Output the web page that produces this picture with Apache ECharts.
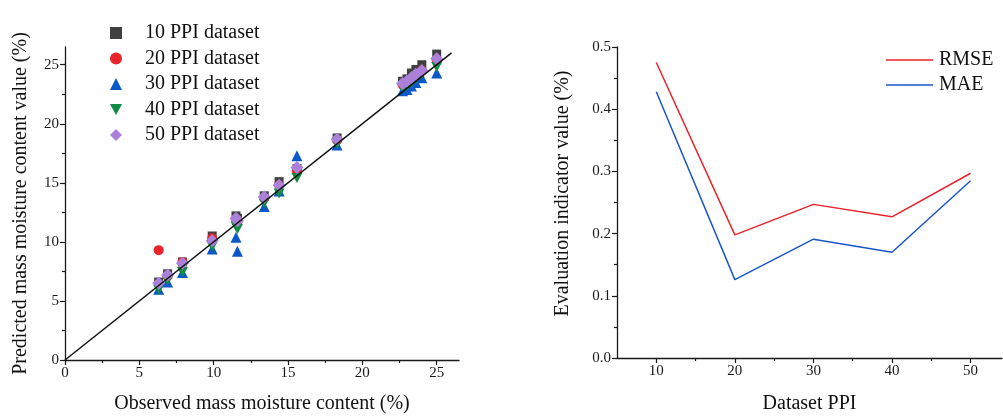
<!DOCTYPE html>
<html>
<head>
<meta charset="utf-8">
<script src="https://cdn.jsdelivr.net/npm/echarts@6/dist/echarts.min.js"></script>
<style>html,body{margin:0;padding:0;background:#fff}#c{width:1003px;height:419px}</style>
</head>
<body>
<div id="c"></div>
<script>
// ---- Left panel: observed vs predicted ----
var observed = [6.3, 6.9, 7.9, 9.9, 11.5, 11.6, 13.4, 14.4, 15.6, 18.3, 22.7, 23.0, 23.3, 23.6, 24.0, 25.0];
var pred10 = [6.6, 7.3, 8.3, 10.5, 12.2, 12.0, 13.9, 15.1, 16.2, 18.8, 23.6, 23.8, 24.3, 24.6, 25.0, 25.9];
var pred20 = [9.3, 7.1, 8.3, 10.3, 11.9, 11.7, 13.7, 14.8, 16.0, 18.6, 23.3, 23.5, 23.8, 24.0, 24.5, 25.4];
var pred30 = [6.0, 6.6, 7.4, 9.4, 10.4, 9.2, 13.0, 14.3, 17.3, 18.2, 22.8, 22.9, 23.2, 23.5, 23.9, 24.3];
var pred40 = [5.95, 6.75, 7.45, 9.6, 11.3, 11.1, 13.3, 14.1, 15.4, 18.3, 23.0, 23.2, 23.4, 23.8, 24.2, 24.8];
var pred50 = [6.5, 7.2, 8.2, 10.1, 12.0, 11.8, 13.8, 14.8, 16.3, 18.7, 23.4, 23.6, 23.9, 24.2, 24.5, 25.5];
var seriesNames = ['10 PPI dataset', '20 PPI dataset', '30 PPI dataset', '40 PPI dataset', '50 PPI dataset'];
var leftTicks = [0, 5, 10, 15, 20, 25];
var leftMinor = [2.5, 7.5, 12.5, 17.5, 22.5];
var refLine = [0, 26];

// ---- Right panel: evaluation indicators ----
var ppi = [10, 20, 30, 40, 50];
var rmse = [0.475, 0.198, 0.247, 0.227, 0.297];
var mae = [0.428, 0.126, 0.191, 0.170, 0.285];
var rightXTicks = [10, 20, 30, 40, 50];
var rightXMinor = [15, 25, 35, 45];
var rightYTicks = [0, 0.1, 0.2, 0.3, 0.4, 0.5];
var rightYMinor = [0.05, 0.15, 0.25, 0.35, 0.45];

var FONT = 'Liberation Serif';
var AX = '#1a1a1a';

function pairs(xs, ys) { return xs.map(function (x, i) { return [x, ys[i]]; }); }

function majorAxis(gridIndex, min, max, ticks, extra) {
  var a = {
    type: 'value', gridIndex: gridIndex, min: min, max: max,
    splitLine: { show: false },
    axisLine: { show: true, onZero: false, lineStyle: { color: AX, width: 1.3 } },
    axisTick: { show: true, inside: false, length: 5, customValues: ticks, lineStyle: { color: AX, width: 1.2 } },
    axisLabel: { show: true, customValues: ticks, color: '#1a1a1a', fontFamily: FONT, fontSize: 15, margin: 6 },
    nameTextStyle: { fontFamily: FONT, fontSize: 20, color: '#111' }
  };
  for (var k in extra) a[k] = extra[k];
  return a;
}
function minorAxis(gridIndex, min, max, ticks, pos) {
  return {
    type: 'value', gridIndex: gridIndex, min: min, max: max, position: pos,
    splitLine: { show: false },
    axisLine: { show: false, onZero: false },
    axisTick: { show: true, inside: false, length: 3, customValues: ticks, lineStyle: { color: AX, width: 1.2 } },
    axisLabel: { show: false }
  };
}

var symbols = ['rect', 'circle', 'triangle', 'path://M0,0L10,0L5,9Z', 'diamond'];
var sizes = [9, 10, 11, [11, 10], 13];
var colors = ['#404040', '#e8232a', '#0b59c9', '#118c45', '#ac80d8'];
var preds = [pred10, pred20, pred30, pred40, pred50];

var series = [];
for (var i = 0; i < 5; i++) {
  series.push({
    name: seriesNames[i], type: 'scatter', xAxisIndex: 0, yAxisIndex: 0,
    symbol: symbols[i], symbolSize: sizes[i],
    itemStyle: { color: colors[i], opacity: 1 },
    data: pairs(observed, preds[i]), z: 2 + i
  });
}
series.push({
  type: 'line', xAxisIndex: 0, yAxisIndex: 0, symbol: 'none', silent: true, z: 10,
  lineStyle: { color: '#111', width: 1.5 }, data: pairs(refLine, refLine)
});
series.push({
  name: 'RMSE', type: 'line', xAxisIndex: 2, yAxisIndex: 2, symbol: 'none',
  lineStyle: { color: '#e8232a', width: 1.5 }, itemStyle: { color: '#e8232a' },
  data: pairs(ppi, rmse)
});
series.push({
  name: 'MAE', type: 'line', xAxisIndex: 2, yAxisIndex: 2, symbol: 'none',
  lineStyle: { color: '#1a56c8', width: 1.5 }, itemStyle: { color: '#1a56c8' },
  data: pairs(ppi, mae)
});

var chart = echarts.init(document.getElementById('c'), null, { renderer: 'canvas' });
chart.setOption({
  animation: false,
  backgroundColor: '#fff',
  grid: [
    { left: 65, top: 47, width: 394, height: 317 },
    { left: 617, top: 47, width: 385, height: 317 }
  ],
  xAxis: [
    majorAxis(0, 0, 26.5, leftTicks, { name: 'Observed mass moisture content (%)', nameLocation: 'middle', nameGap: 34 }),
    minorAxis(0, 0, 26.5, leftMinor, 'bottom'),
    majorAxis(1, 5, 54, rightXTicks, { name: 'Dataset PPI', nameLocation: 'middle', nameGap: 36 }),
    minorAxis(1, 5, 54, rightXMinor, 'bottom')
  ],
  yAxis: [
    majorAxis(0, 0, 26.5, leftTicks, { name: 'Predicted mass moisture content value (%)', nameLocation: 'middle', nameGap: 34 }),
    minorAxis(0, 0, 26.5, leftMinor, 'left'),
    (function () {
      var a = majorAxis(1, 0, 0.5, rightYTicks, { name: 'Evaluation indicator value (%)', nameLocation: 'middle', nameGap: 44 });
      a.axisLabel.formatter = function (v) { return v.toFixed(1); };
      a.nameTextStyle.padding = [0, 0, 0, 18];
      return a;
    })(),
    minorAxis(1, 0, 0.5, rightYMinor, 'left')
  ],
  legend: [
    {
      data: seriesNames, orient: 'vertical', left: 110, top: 23, padding: 0,
      itemWidth: 12, itemHeight: 12, itemGap: 5.5,
      textStyle: { fontFamily: FONT, fontSize: 20, color: '#111', lineHeight: 20, padding: [0, 0, 0, 18] }
    },
    {
      data: [{ name: 'RMSE', icon: 'rect' }, { name: 'MAE', icon: 'rect' }],
      orient: 'vertical', left: 886, top: 50, padding: 0,
      itemWidth: 47, itemHeight: 1.6, itemGap: 5,
      textStyle: { fontFamily: FONT, fontSize: 20, color: '#111', lineHeight: 20, padding: [0, 0, 0, 1] }
    }
  ],
  series: series
});
</script>
</body>
</html>
